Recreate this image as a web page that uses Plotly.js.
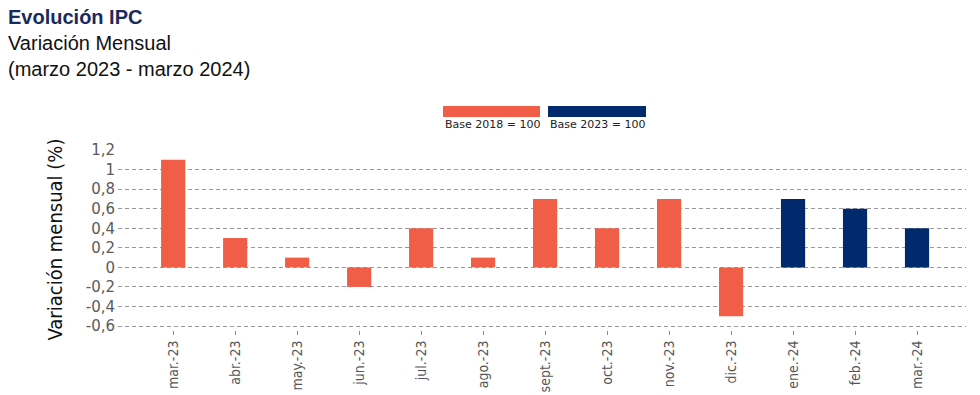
<!DOCTYPE html>
<html>
<head>
<meta charset="utf-8">
<script src="https://cdn.plot.ly/plotly-3.0.1.min.js"></script>
<style>html,body{margin:0;padding:0;background:#fff;}#chart{width:980px;height:395px;}</style>
</head>
<body>
<div id="chart"></div>
<script>
// Data
const months = ["mar.-23","abr.-23","may.-23","jun.-23","jul.-23","ago.-23","sept.-23","oct.-23","nov.-23","dic.-23","ene.-24","feb.-24","mar.-24"];
const base2018Months = ["mar.-23","abr.-23","may.-23","jun.-23","jul.-23","ago.-23","sept.-23","oct.-23","nov.-23","dic.-23"];
const base2018Values = [1.1, 0.3, 0.1, -0.2, 0.4, 0.1, 0.7, 0.4, 0.7, -0.5];
const base2023Months = ["ene.-24","feb.-24","mar.-24"];
const base2023Values = [0.7, 0.6, 0.4];
const yTickVals = [1.2, 1, 0.8, 0.6, 0.4, 0.2, 0, -0.2, -0.4, -0.6];
const yTickText = ["1,2", "1", "0,8", "0,6", "0,4", "0,2", "0", "-0,2", "-0,4", "-0,6"];
const seriesNames = ["Base 2018 = 100", "Base 2023 = 100"];
const titleLines = ["Evolución IPC", "Variación Mensual", "(marzo 2023 - marzo 2024)"];

const orange = "#F15E48";
const navy = "#012A6C";

const L = 118, R = 966, T = 149, B = 330;
const pw = R - L, ph = B - T;
const px = v => (v - L) / pw;
const py = v => (B - v) / ph;

const traces = [
  {type: "bar", name: seriesNames[0], x: base2018Months, y: base2018Values, width: 0.39,
   marker: {color: orange}, showlegend: false, hoverinfo: "x+y"},
  {type: "bar", name: seriesNames[1], x: base2023Months, y: base2023Values, width: 0.39,
   marker: {color: navy}, showlegend: false, hoverinfo: "x+y"}
];

const titleFont = "Liberation Sans, Arial, sans-serif";
const condensed = "DejaVu Sans Condensed, Liberation Sans Narrow, Arial Narrow, sans-serif";

const layout = {
  width: 980, height: 395,
  margin: {l: L, r: 980 - R, t: T, b: 395 - B, pad: 0},
  paper_bgcolor: "#fff", plot_bgcolor: "#fff",
  barmode: "overlay",
  separators: ",.",
  xaxis: {
    type: "category", categoryorder: "array", categoryarray: months,
    range: [-0.89, 12.79],
    tickangle: -90,
    ticks: "outside", ticklen: 4, tickcolor: "#888", tickwidth: 1,
    tickfont: {family: condensed, size: 14, color: "#555"},
    showgrid: false, showline: false, zeroline: false
  },
  yaxis: {
    range: [-0.64, 1.21],
    tickvals: yTickVals, ticktext: yTickText,
    ticks: "", ticklabelstandoff: 2,
    tickfont: {family: "DejaVu Sans, sans-serif", size: 15, color: "#5a5a5a"},
    showgrid: true, gridcolor: "#9a9a9a", gridwidth: 1, griddash: "4px,3px",
    zeroline: false, showline: false,
    title: {text: "Variación mensual (%)", standoff: 17,
      font: {family: condensed, size: 20, color: "#111"}}
  },
  shapes: [
    {type: "rect", xref: "paper", yref: "paper", x0: px(443), x1: px(540), y0: py(117), y1: py(106),
     fillcolor: orange, line: {width: 0}},
    {type: "rect", xref: "paper", yref: "paper", x0: px(548), x1: px(646), y0: py(117), y1: py(106),
     fillcolor: navy, line: {width: 0}}
  ],
  annotations: [
    {xref: "paper", yref: "paper", x: px(443), y: py(125), xanchor: "left", yanchor: "middle",
     text: seriesNames[0], showarrow: false, font: {family: "DejaVu Sans, sans-serif", size: 11, color: "#222"}},
    {xref: "paper", yref: "paper", x: px(548), y: py(125), xanchor: "left", yanchor: "middle",
     text: seriesNames[1], showarrow: false, font: {family: "DejaVu Sans, sans-serif", size: 11, color: "#222"}},
    {xref: "paper", yref: "paper", x: px(6), y: py(17), xanchor: "left", yanchor: "middle",
     text: "<b>" + titleLines[0] + "</b>", showarrow: false, font: {family: titleFont, size: 20, color: "#1b2a5c"}},
    {xref: "paper", yref: "paper", x: px(6), y: py(43), xanchor: "left", yanchor: "middle",
     text: titleLines[1], showarrow: false, font: {family: titleFont, size: 20, color: "#111"}},
    {xref: "paper", yref: "paper", x: px(6), y: py(69), xanchor: "left", yanchor: "middle",
     text: titleLines[2], showarrow: false, font: {family: titleFont, size: 20, color: "#111"}}
  ]
};

Plotly.newPlot("chart", traces, layout, {displayModeBar: false, staticPlot: true});
</script>
</body>
</html>
